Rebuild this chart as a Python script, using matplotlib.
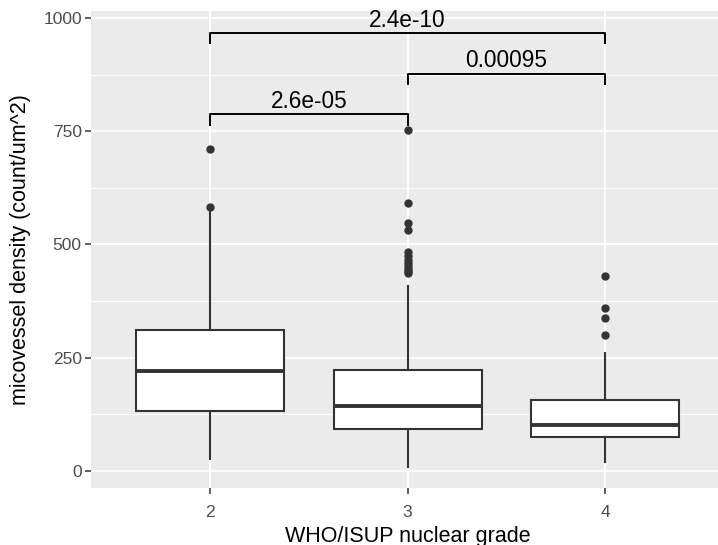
import matplotlib
matplotlib.use("Agg")
import matplotlib.pyplot as plt

# grades and box statistics
grades = ["2", "3", "4"]
q1 = [133, 92, 75]
medians = [221, 143, 102]
q3 = [312, 222, 157]
whisker_lo = [26, 9, 20]
whisker_hi = [575, 408, 260]
outliers = [
    [582, 710],
    [436, 441, 446, 452, 458, 466, 474, 483, 533, 548, 592, 752],
    [301, 338, 359, 431],
]

# pairwise p-values (bracket pairs, heights, labels)
pairs = [(1, 2), (2, 3), (1, 3)]
bracket_y = [787, 877, 967]
p_labels = ["2.6e-05", "0.00095", "2.4e-10"]
tip = 23

plt.rcParams['font.family'] = ['Liberation Sans', 'DejaVu Sans']

fig = plt.figure(figsize=(7.18, 5.45), dpi=100)
ax = fig.add_axes([0.1274, 0.1039, 0.8807, 0.8752])
ax.set_facecolor("#EBEBEB")

stats = []
for i in range(len(grades)):
    stats.append({"med": medians[i], "q1": q1[i], "q3": q3[i],
                  "whislo": whisker_lo[i], "whishi": whisker_hi[i],
                  "fliers": outliers[i], "label": grades[i]})

ax.bxp(stats, positions=[1, 2, 3], widths=0.75, patch_artist=True,
       showcaps=False,
       boxprops=dict(facecolor="white", edgecolor="#333333", linewidth=1.5),
       medianprops=dict(color="#333333", linewidth=2.8),
       whiskerprops=dict(color="#333333", linewidth=1.5),
       flierprops=dict(marker="o", markerfacecolor="#333333",
                       markeredgecolor="#333333", markersize=5),
       zorder=3)

# significance brackets
for (a, b), y, lab in zip(pairs, bracket_y, p_labels):
    ax.plot([a, a, b, b], [y - tip, y, y, y - tip], color="black",
            linewidth=1.4, zorder=4)
    ax.text((a + b) / 2, y + 3, lab, ha="center", va="bottom",
            fontsize=16.3, color="black")

ax.set_xlim(0.4, 3.6)
ax.set_ylim(-38.5, 1014.6)
ax.set_yticks([0, 250, 500, 750, 1000])
ax.set_yticks([125, 375, 625, 875], minor=True)
ax.set_xticks([1, 2, 3])
ax.set_xticklabels(grades)

ax.grid(True, which="major", color="white", linewidth=1.3)
ax.grid(True, which="minor", axis="y", color="white", linewidth=0.7)
ax.set_axisbelow(True)
for s in ax.spines.values():
    s.set_visible(False)

ax.tick_params(axis="both", which="major", colors="#333333", length=4,
               width=1.1, labelsize=12.5, labelcolor="#4D4D4D", pad=3)
ax.tick_params(axis="x", which="major", pad=8)
ax.tick_params(axis="both", which="minor", length=0)

ax.set_xlabel("WHO/ISUP nuclear grade", fontsize=15.5, labelpad=4)
ax.set_ylabel("micovessel density (count/um^2)", fontsize=15.5, labelpad=9)

fig.savefig("out.png", dpi=100)
